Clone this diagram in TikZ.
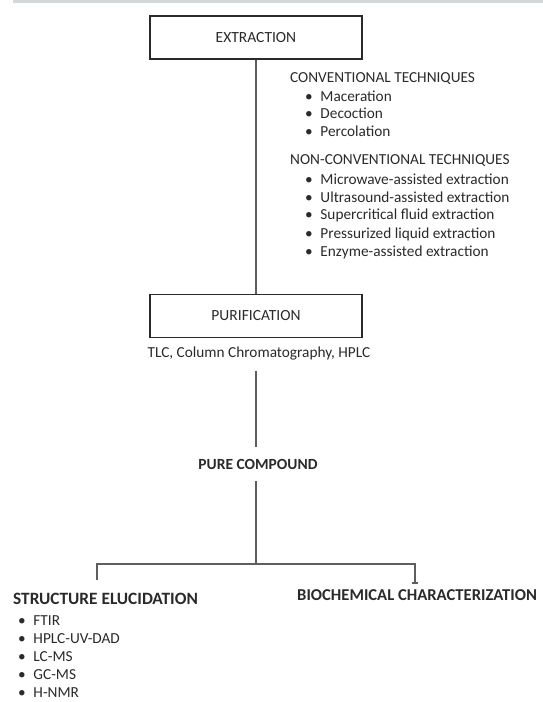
\documentclass[tikz,border=0pt]{standalone}
\usepackage{fontspec}
\setmainfont{Carlito}
\usepackage{xcolor}
\usetikzlibrary{positioning}
\definecolor{bandgray}{HTML}{D3DAD6}
\definecolor{linegray}{HTML}{5E5E5E}
\definecolor{inkgray}{HTML}{2A2A2A}
\tikzset{%
	stagebox/.style = {draw=inkgray, line width=1.3pt, minimum width=212pt, minimum height=43pt, text=inkgray, font=\fontsize{15.5}{18}\selectfont},
	head/.style     = {anchor=west, inner sep=0pt, text=inkgray, font=\fontsize{15.3}{18}\selectfont},
	item/.style     = {anchor=west, inner sep=0pt, text=inkgray, font=\fontsize{15.3}{18}\selectfont},
	bighead/.style  = {inner sep=0pt, text=inkgray, font=\fontsize{17.3}{20}\selectfont\bfseries},
	branch/.style   = {draw=linegray, line width=1.8pt},
}

\begin{document}
\begin{tikzpicture}[x=1pt,y=-1pt]
		\useasboundingbox (0,0) rectangle (543,702);
		% strip along the top
		\fill[bandgray] (13,0) rectangle (543,3);
		
		% extraction and purification
		\node[stagebox] (extraction) at (256,37.5) {EXTRACTION};
		\node[stagebox] (purification) at (256,316) {PURIFICATION};
		\node[item,anchor=center] (methods) at (259,353) {TLC, Column Chromatography, HPLC};
		\draw[branch] (extraction) -- (purification);
		
		% extraction techniques
		\node[head] (conv) at (290,79) {CONVENTIONAL TECHNIQUES};
		\foreach \t [count=\i] in {Maceration,Decoction,Percolation} \node[item] (conv-\i) at (305,79+17.3*\i) {\textbullet\enspace\t};
		
		\node[head] (nonconv) at (290,161) {NON-CONVENTIONAL TECHNIQUES};
		\foreach \t [count=\i] in {Microwave-assisted extraction,Ultrasound-assisted extraction,Supercritical fluid extraction,Pressurized liquid extraction,Enzyme-assisted extraction} \node[item] (nonconv-\i) at (305,161+18.3*\i) {\textbullet\enspace\t};
		
		% pure compound and the two branches
		\node[bighead,font=\fontsize{15.5}{18}\selectfont\bfseries,inner ysep=12pt] (pure) at (258,464) {PURE COMPOUND};
		\coordinate (split) at (256,564);
		\draw[branch,shorten <=11pt] (methods.south -| split) -- (pure.north -| split);
		
		\coordinate (left-end) at (97,580);
		\coordinate (right-end) at (415,583);
		\draw[branch] (pure.south -| split) -- (split);
		\draw[branch] (left-end) |- (split) -| (right-end);
		\draw[branch,line width=1.2pt] ([xshift=-3pt]right-end) -- ([xshift=3pt]right-end);
		
		\node[bighead,anchor=west] (structure) at (13,599) {STRUCTURE ELUCIDATION};
		\foreach \t [count=\i] in {FTIR,HPLC-UV-DAD,LC-MS,GC-MS,H-NMR} \node[item] (structure-\i) at (18,603+18*\i) {\textbullet\enspace\t};
		
		\node[bighead,anchor=west,font=\fontsize{16.6}{20}\selectfont\bfseries] (biochem) at (297,595) {BIOCHEMICAL CHARACTERIZATION};
\end{tikzpicture}
\end{document}
